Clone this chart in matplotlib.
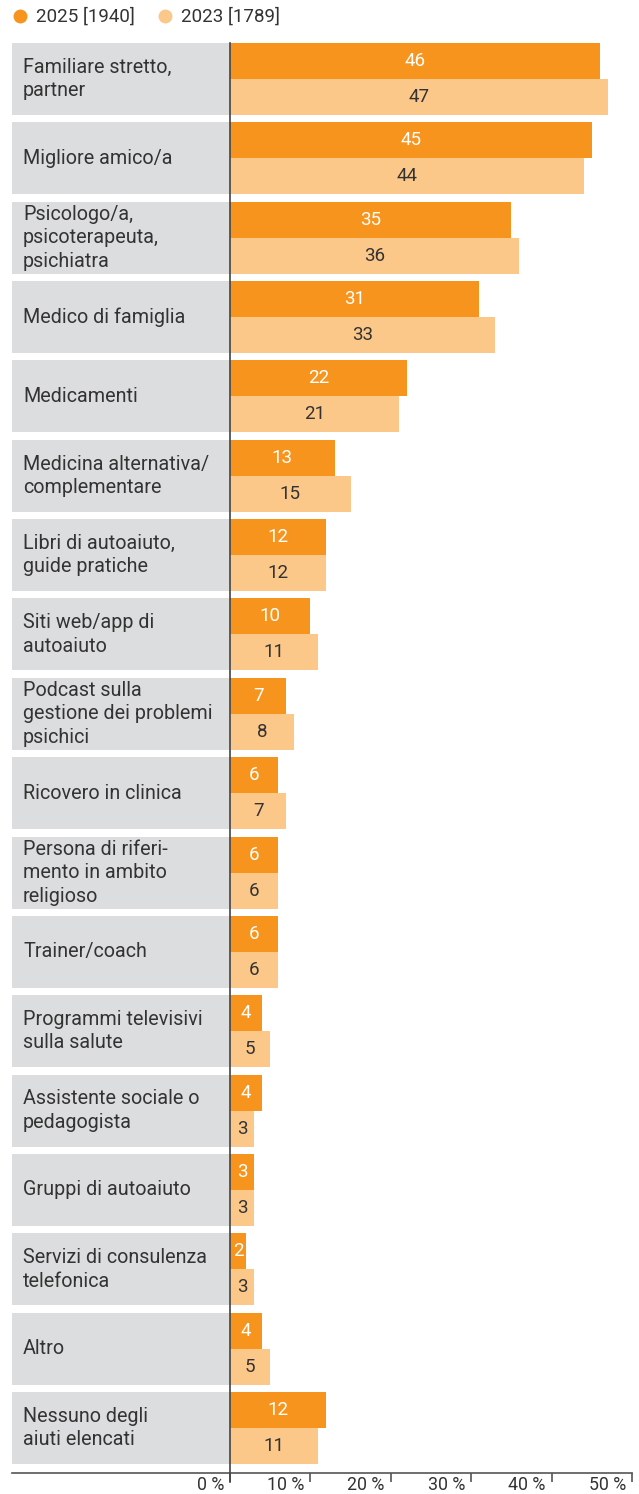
import matplotlib
matplotlib.use("Agg")
import matplotlib.pyplot as plt
from matplotlib.lines import Line2D

plt.rcParams['font.family'] = ['Roboto', 'DejaVu Sans']

categories = [
    "Familiare stretto,\npartner",
    "Migliore amico/a",
    "Psicologo/a,\npsicoterapeuta,\npsichiatra",
    "Medico di famiglia",
    "Medicamenti",
    "Medicina alternativa/\ncomplementare",
    "Libri di autoaiuto,\nguide pratiche",
    "Siti web/app di\nautoaiuto",
    "Podcast sulla\ngestione dei problemi\npsichici",
    "Ricovero in clinica",
    "Persona di riferi-\nmento in ambito\nreligioso",
    "Trainer/coach",
    "Programmi televisivi\nsulla salute",
    "Assistente sociale o\npedagogista",
    "Gruppi di autoaiuto",
    "Servizi di consulenza\ntelefonica",
    "Altro",
    "Nessuno degli\naiuti elencati",
]
values_2025 = [46, 45, 35, 31, 22, 13, 12, 10, 7, 6, 6, 6, 4, 4, 3, 2, 4, 12]
values_2023 = [47, 44, 36, 33, 21, 15, 12, 11, 8, 7, 6, 6, 5, 3, 3, 3, 5, 11]
series_labels = ["2025 [1940]", "2023 [1789]"]
xticks = [0, 10, 20, 30, 40, 50]
xtick_labels = ["0 %", "10 %", "20 %", "30 %", "40 %", "50 %"]

C_DARK = "#F7941D"
C_LIGHT = "#FBC88A"
C_GRAY = "#DCDDDE"
C_TEXT = "#333333"
FW = 'normal'

W, H = 639, 1494
fig = plt.figure(figsize=(W / 100, H / 100), dpi=100)

# pixel layout
left_px, zero_px, right_px = 12, 230, 632
top_px, axis_px = 43, 1473
pitch = 79.35
row_h = 72.0
px_per = (right_px - zero_px) / 50.0
xmin = -(zero_px - left_px) / px_per
xmax = 50.0

ax = fig.add_axes([left_px / W, 1 - axis_px / H, (right_px - left_px) / W, (axis_px - top_px) / H])

n = len(categories)
half = (row_h / 2) / pitch
ys = list(range(n))
ax.set_ylim(n - 1 + half + 9 / pitch, -half)
ax.set_xlim(xmin, xmax)

bh = half  # each bar height (half of row)
ax.barh(ys, [-xmin] * n, left=xmin, height=2 * half, color=C_GRAY, zorder=1)
ax.barh([y - bh / 2 for y in ys], values_2025, height=bh, color=C_DARK, zorder=2)
ax.barh([y + bh / 2 for y in ys], values_2023, height=bh, color=C_LIGHT, zorder=2)

fs_lab = 14.2
fs_val = 13.5
for y, lab in zip(ys, categories):
    ax.text(xmin + 11 / px_per, y, lab, ha='left', va='center', fontsize=fs_lab,
            color=C_TEXT, linespacing=1.3, zorder=3, fontweight=FW)
for y, v in zip(ys, values_2025):
    ax.text(v / 2, y - bh / 2, str(v), ha='center', va='center', fontsize=fs_val,
            color='white', zorder=3, fontweight=FW)
for y, v in zip(ys, values_2023):
    ax.text(v / 2, y + bh / 2, str(v), ha='center', va='center', fontsize=fs_val,
            color=C_TEXT, zorder=3, fontweight=FW)

# zero line
ax.axvline(0, ymin=-9 / (axis_px - top_px), ymax=1, color="#444444", lw=1.2,
           clip_on=False, zorder=4)

for s in ['top', 'right', 'left']:
    ax.spines[s].set_visible(False)
ax.spines['bottom'].set_color("#555555")
ax.spines['bottom'].set_linewidth(1.2)
ax.set_yticks([])
ax.set_xticks(xticks)
ax.set_xticklabels([])
ax.tick_params(axis='x', direction='out', length=6.5, width=1.2, color="#555555")
for t, lab in zip(xticks, xtick_labels):
    ax.annotate(lab, xy=(t, 0), xycoords=('data', 'axes fraction'),
                xytext=(-6, -12), textcoords='offset pixels',
                ha='right', va='center', fontsize=12.8, color=C_TEXT, fontweight=FW)

# legend
handles = [Line2D([], [], marker='o', linestyle='none', markersize=9,
                  markerfacecolor=c, markeredgecolor=c) for c in (C_DARK, C_LIGHT)]
fig.legend(handles, series_labels, loc='center left',
           bbox_to_anchor=(13 / W, 1 - 17 / H), ncol=2, frameon=False,
           prop={'size': 13.5, 'weight': FW},
           handlelength=0.7, handletextpad=0.5, columnspacing=1.3,
           labelcolor=C_TEXT, borderaxespad=0, borderpad=0)

fig.savefig("out.png", dpi=100)
